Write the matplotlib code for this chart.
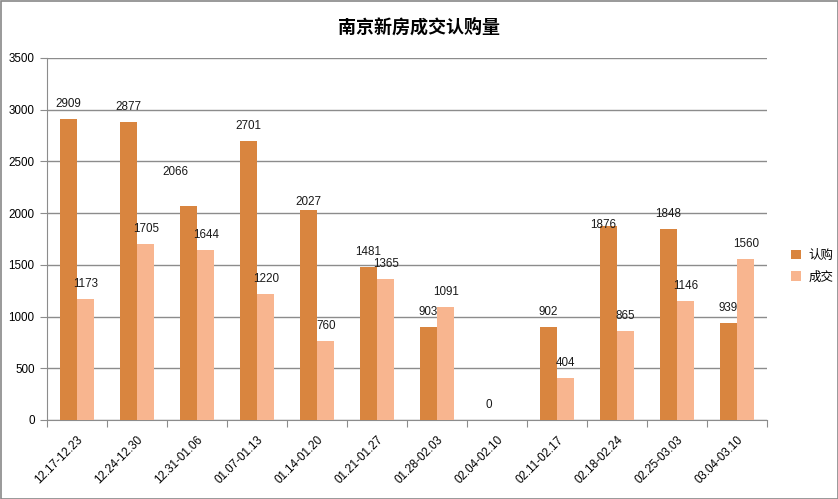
import numpy as np
import matplotlib
matplotlib.use('Agg')
import matplotlib.pyplot as plt
from matplotlib.patches import Rectangle

plt.rcParams['font.family'] = ['Liberation Sans', 'Noto Sans CJK SC', 'DejaVu Sans']

# data
weeks = ['12.17-12.23', '12.24-12.30', '12.31-01.06', '01.07-01.13', '01.14-01.20',
         '01.21-01.27', '01.28-02.03', '02.04-02.10', '02.11-02.17', '02.18-02.24',
         '02.25-03.03', '03.04-03.10']
subscribe = [2909, 2877, 2066, 2701, 2027, 1481, 903, 0, 902, 1876, 1848, 939]
deals = [1173, 1705, 1644, 1220, 760, 1365, 1091, np.nan, 404, 865, 1146, 1560]

title = '南京新房成交认购量'
series_names = ['认购', '成交']
yticks = [0, 500, 1000, 1500, 2000, 2500, 3000, 3500]

dark = '#D9853F'
light = '#F8B58F'
grid_c = '#8C8C8C'

# label nudges (pixels) where Excel moved the label off the default spot
nudge_dark = {2: (-13, -19), 4: (0, 7), 9: (-5, 14)}
nudge_light = {}

W, H = 838, 499
fig = plt.figure(figsize=(W / 100, H / 100), dpi=100)
ax = fig.add_axes([47 / W, (H - 420) / H, 720 / W, 362 / H])

x = np.arange(len(weeks))
bw = 0.29
off = 0.145
b1 = ax.bar(x - off, subscribe, bw, color=dark, label=series_names[0], zorder=3)
b2 = ax.bar(x + off, deals, bw, color=light, label=series_names[1], zorder=3)

def put_labels(vals, xs, nudges):
    for i, (v, xx) in enumerate(zip(vals, xs)):
        if np.isnan(v):
            continue
        dx, dy = nudges.get(i, (0, 0))
        ax.annotate(f'{int(v)}', (xx, v), xytext=(dx, 15 - dy),
                    textcoords='offset pixels', ha='center', va='center',
                    fontsize=8.4, color='#1a1a1a', zorder=4)

put_labels(np.array(subscribe, float), x - off, nudge_dark)
put_labels(np.array(deals, float), x + off, nudge_light)

ax.set_xlim(-0.5, len(weeks) - 0.5)
ax.set_ylim(0, 3500)
ax.set_yticks(yticks)
ax.set_yticklabels([str(t) for t in yticks], fontsize=8.4)
ax.grid(axis='y', color=grid_c, linewidth=1, zorder=0)

ax.set_xticks(np.arange(len(weeks) + 1) - 0.5)
ax.set_xticklabels([])
ax.set_xticks(x, minor=True)
ax.set_xticklabels(weeks, minor=True, rotation=45, ha='right', va='top',
                   rotation_mode='anchor', fontsize=8.4)
ax.tick_params(axis='x', which='minor', length=0, pad=10)
ax.tick_params(axis='x', which='major', length=5, color=grid_c)
ax.tick_params(axis='y', length=5, color=grid_c, pad=4)

for s in ['top', 'right']:
    ax.spines[s].set_visible(False)
for s in ['left', 'bottom']:
    ax.spines[s].set_color(grid_c)

fig.text(0.5, (H - 27) / H, title, ha='center', va='center', fontsize=13,
         fontweight='bold', family=['Noto Sans CJK SC', 'DejaVu Sans'])

leg = fig.legend(handles=[b1, b2], labels=series_names, loc='center left',
                 bbox_to_anchor=(780 / W, (H - 266) / H), frameon=False,
                 handlelength=0.8, handleheight=0.8, handletextpad=0.6,
                 labelspacing=0.7, prop={'family': ['Noto Sans CJK SC'], 'size': 9})

fig.patches.append(Rectangle((0.5 / W, 0.5 / H), 1 - 1 / W, 1 - 1 / H,
                             transform=fig.transFigure, fill=False,
                             edgecolor='#888888', linewidth=1.2))

fig.savefig('out.png', dpi=100)
